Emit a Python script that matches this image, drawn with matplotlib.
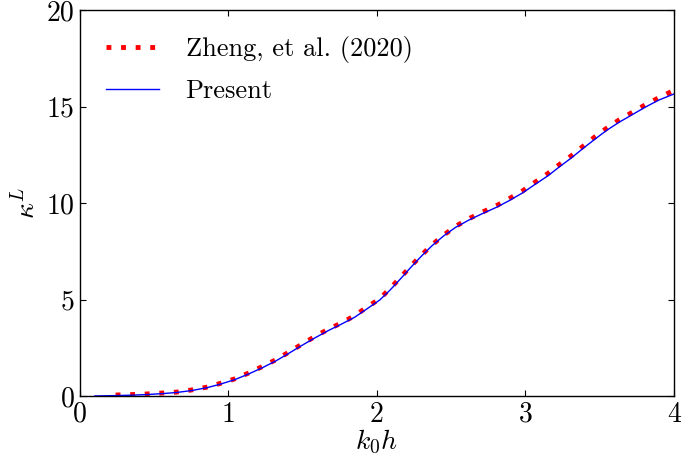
import matplotlib
matplotlib.use("Agg")
import matplotlib.pyplot as plt
import numpy as np

# Zheng, et al. (2020) reference data
zheng_x = [0.24, 0.34, 0.44, 0.55, 0.65, 0.75, 0.85, 0.94, 1.04, 1.13, 1.23, 1.32, 1.40, 1.49,
           1.58, 1.67, 1.76, 1.85, 1.93, 2.02, 2.09, 2.16, 2.23, 2.30, 2.37, 2.45, 2.53, 2.62,
           2.71, 2.80, 2.89, 2.98, 3.06, 3.15, 3.23, 3.31, 3.39, 3.47, 3.55, 3.63, 3.72, 3.81,
           3.90, 3.99]
zheng_y = [0.05, 0.07, 0.10, 0.15, 0.20, 0.31, 0.45, 0.64, 0.88, 1.17, 1.53, 1.88, 2.24, 2.66,
           3.07, 3.45, 3.78, 4.16, 4.59, 5.04, 5.58, 6.15, 6.74, 7.30, 7.82, 8.34, 8.79, 9.19,
           9.53, 9.84, 10.22, 10.62, 11.05, 11.52, 12.00, 12.45, 12.95, 13.44, 13.89, 14.30,
           14.70, 15.10, 15.46, 15.80]

# Present results
present_x = [0.10, 0.24, 0.34, 0.44, 0.55, 0.65, 0.75, 0.85, 0.94, 1.04, 1.13, 1.23, 1.32,
             1.40, 1.49, 1.58, 1.67, 1.76, 1.85, 1.93, 2.02, 2.09, 2.16, 2.23, 2.30, 2.37,
             2.45, 2.53, 2.62, 2.71, 2.80, 2.89, 2.98, 3.06, 3.15, 3.23, 3.31, 3.39, 3.47,
             3.55, 3.63, 3.72, 3.81, 3.90, 4.00]
present_y = [0.00, 0.02, 0.04, 0.07, 0.12, 0.18, 0.28, 0.42, 0.60, 0.84, 1.12, 1.47, 1.82,
             2.18, 2.60, 3.00, 3.38, 3.72, 4.08, 4.50, 4.98, 5.50, 6.08, 6.68, 7.25, 7.78,
             8.30, 8.74, 9.12, 9.45, 9.76, 10.12, 10.52, 10.94, 11.40, 11.88, 12.34, 12.84,
             13.32, 13.78, 14.18, 14.58, 14.98, 15.34, 15.65]

plt.rcParams['font.family'] = 'serif'
plt.rcParams['font.serif'] = ['cmr10', 'DejaVu Serif']
plt.rcParams['mathtext.fontset'] = 'cm'
plt.rcParams['axes.formatter.use_mathtext'] = True

fig = plt.figure(figsize=(6.82, 4.59), dpi=100)
ax = fig.add_axes([0.1173, 0.1373, 0.8707, 0.8407])

ax.plot(zheng_x, zheng_y, color='red', lw=3.5, linestyle=(0, (1, 2)),
        dash_capstyle='butt', label='Zheng, et al. (2020)')
ax.plot(present_x, present_y, color='blue', lw=1.0, label='Present')

ax.set_xlim(0, 4)
ax.set_ylim(0, 20)
ax.set_xticks([0, 1, 2, 3, 4])
ax.set_yticks([0, 5, 10, 15, 20])
ax.set_xticklabels(['0', '1', '2', '3', '4'])
ax.set_yticklabels(['0', '5', '10', '15', '20'])
ax.tick_params(direction='in', top=True, right=True, labelsize=20, length=4, pad=4)
for s in ax.spines.values():
    s.set_linewidth(1.0)

ax.set_xlabel(r'$k_0h$', fontsize=20, labelpad=0)
ax.set_ylabel(r'$\kappa^L$', fontsize=20, labelpad=4)

ax.legend(loc='upper left', frameon=False, fontsize=19, handlelength=2.0,
          handletextpad=1.0, borderaxespad=0.6, labelspacing=0.6)

fig.savefig('out.png', dpi=100)
